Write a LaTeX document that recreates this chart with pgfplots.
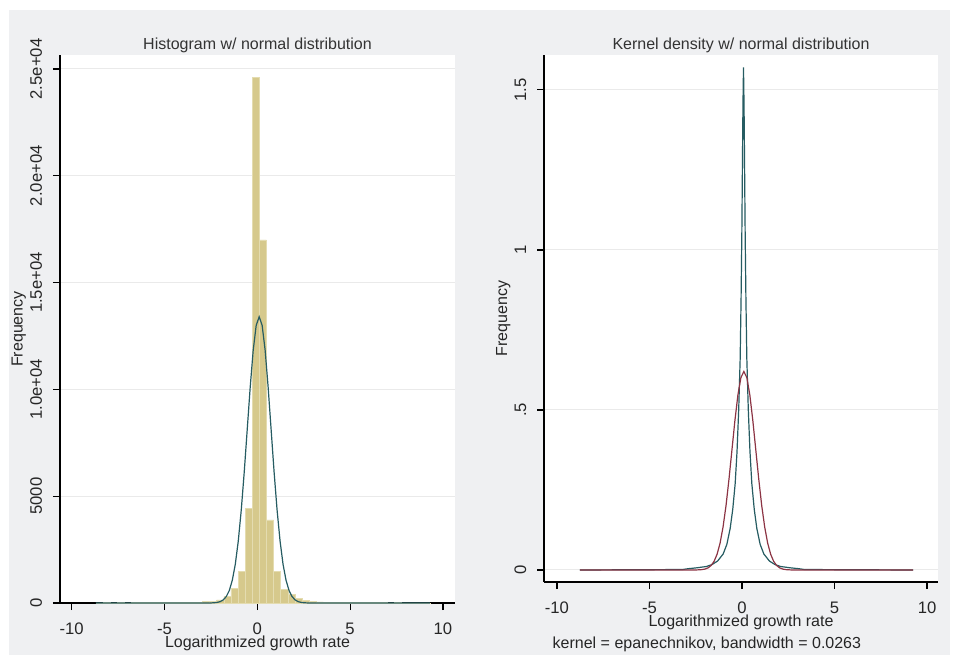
\documentclass[border=0pt]{standalone}
\usepackage{pgfplots}
\pgfplotsset{compat=1.18}
\usepackage{fontspec}
\setmainfont{Liberation Sans}

\definecolor{bgray}{RGB}{239,240,242}
\definecolor{barfill}{RGB}{214,201,140}
\definecolor{baredge}{RGB}{228,220,176}
\definecolor{tealline}{RGB}{38,92,98}
\definecolor{maroonline}{RGB}{140,52,68}
\definecolor{gridc}{RGB}{234,234,234}

% 1 px of the reference = 0.75pt
\pgfplotsset{
  stata/.style={
    scale only axis, clip mode=individual,
    axis x line*=bottom, axis y line*=left,
    axis line style={-, line width=1.1pt, black},
    axis background/.style={fill=white},
    tick align=outside,
    major tick length=5.25pt,
    tick style={line width=0.9pt, black},
    ymajorgrids, major grid style={gridc, line width=0.75pt},
    font=\fontsize{12}{14}\selectfont,
    tick label style={font=\fontsize{12.5}{14}\selectfont, text=black!85},
    xtick={-10,-5,0,5,10}, xticklabels={-10,-5,0,5,10},
    xticklabel style={anchor=base}, xticklabel shift=18pt,
    yticklabel style={rotate=90, anchor=base}, yticklabel shift=8.25pt,
    scaled y ticks=false,
    every axis title shift=0pt,
    title style={at={(axis description cs:0.5,1)}, anchor=base, yshift=3.75pt, text=black!80},
    xlabel style={at={(axis description cs:0.5,0)}, anchor=base, yshift=-33.4pt, text=black!85},
    ylabel style={anchor=base, text=black!85},
    xlabel={Logarithmized growth rate}, ylabel={Frequency},
  }
}

\begin{document}
\begin{tikzpicture}
\fill[white] (0pt,0pt) rectangle (717.75pt,498.75pt);
\fill[bgray] (6.75pt,7.5pt) rectangle (712.5pt,491.25pt);

% histogram panel
\begin{axis}[stata, at={(45pt,46.5pt)}, anchor=south west,
  width=296.25pt, height=411pt,
  xmin=-10.63, xmax=10.65, ymin=0, ymax=25655,
  ytick={0,5000,10000,15000,20000,25000},
  yticklabels={0,5000,1.0e+04,1.5e+04,2.0e+04,2.5e+04},
  title={Histogram w/ normal distribution},
  ylabel style={at={(axis description cs:-0.0949,0.5)}},
]
\addplot[ybar interval, fill=barfill, draw=baredge, line width=0.4pt] coordinates {
(-8.700,10) (-8.317,15) (-7.934,8) (-7.551,12) (-7.168,10) (-6.785,14)
(-6.402,12) (-6.019,16) (-5.636,15) (-5.253,18) (-4.870,20) (-4.487,22)
(-4.104,28) (-3.721,35) (-3.338,45) (-2.955,60) (-2.572,90) (-2.189,150)
(-1.806,300) (-1.423,700) (-1.040,1470) (-0.657,4430) (-0.274,24600)
(0.109,17000) (0.492,3890) (0.875,1470) (1.258,650) (1.641,420)
(2.024,200) (2.407,120) (2.790,80) (3.173,55) (3.556,40) (3.939,32)
(4.322,26) (4.705,22) (5.088,18) (5.471,16) (5.854,14) (6.237,12)
(6.620,14) (7.003,10) (7.386,12) (7.769,9) (8.152,10) (8.535,8)
(8.918,10) (9.301,10)
};
% normal density scaled to frequencies
\addplot[tealline, line width=0.9pt] coordinates {
(-8.70,0) (-2.473,4.5) (-2.312,12) (-2.151,29) (-1.990,68) (-1.830,149)
(-1.669,306) (-1.508,588) (-1.347,1067) (-1.186,1814) (-1.026,2899)
(-0.865,4352) (-0.704,6136) (-0.543,8130) (-0.382,10117) (-0.222,11829)
(-0.061,12991) (0.100,13404) (0.261,12991) (0.422,11829) (0.582,10117)
(0.743,8130) (0.904,6136) (1.065,4352) (1.226,2899) (1.386,1814)
(1.547,1067) (1.708,588) (1.869,306) (2.030,149) (2.190,68) (2.351,29)
(2.512,12) (2.673,4.5) (9.30,0)
};
\end{axis}

% kernel density panel
\begin{axis}[stata, at={(408pt,62.25pt)}, anchor=south west,
  width=295.5pt, height=395.25pt,
  xmin=-10.70, xmax=10.59, ymin=-0.0375, ymax=1.609,
  ytick={0,0.5,1,1.5}, yticklabels={0,.5,1,1.5},
  title={Kernel density w/ normal distribution},
  ylabel style={at={(axis description cs:-0.0939,0.5)}},
]
% kernel density estimate
\addplot[tealline, line width=0.9pt] coordinates {
(-8.76,0) (-3.22,0.0015) (-2.92,0.004) (-2.42,0.007) (-1.92,0.011)
(-1.62,0.017) (-1.32,0.028) (-1.02,0.05) (-0.82,0.08) (-0.64,0.13)
(-0.50,0.19) (-0.37,0.27) (-0.27,0.37) (-0.18,0.50) (-0.10,0.66)
(-0.05,0.85) (-0.01,1.05) (0.02,1.25) (0.05,1.45) (0.08,1.57)
(0.11,1.45) (0.14,1.25) (0.17,1.05) (0.21,0.85) (0.26,0.66)
(0.34,0.50) (0.43,0.37) (0.53,0.27) (0.66,0.19) (0.80,0.13)
(0.98,0.08) (1.18,0.05) (1.48,0.028) (1.78,0.017) (2.08,0.011)
(2.58,0.007) (3.08,0.004) (3.38,0.0015) (9.24,0)
};
% normal density
\addplot[maroonline, line width=0.9pt] coordinates {
(-8.76,0) (-2.473,0.0002) (-2.312,0.0006) (-2.151,0.0013) (-1.990,0.0031)
(-1.830,0.0069) (-1.669,0.0142) (-1.508,0.0272) (-1.347,0.0494)
(-1.186,0.0839) (-1.026,0.134) (-0.865,0.201) (-0.704,0.284)
(-0.543,0.376) (-0.382,0.468) (-0.222,0.547) (-0.061,0.601) (0.100,0.620)
(0.261,0.601) (0.422,0.547) (0.582,0.468) (0.743,0.376) (0.904,0.284)
(1.065,0.201) (1.226,0.134) (1.386,0.0839) (1.547,0.0494) (1.708,0.0272)
(1.869,0.0142) (2.030,0.0069) (2.190,0.0031) (2.351,0.0013)
(2.512,0.0006) (2.673,0.0002) (9.24,0)
};
\node[anchor=base west, text=black!85] at ([yshift=-49.5pt]axis description cs:0.0102,0)
  {kernel = epanechnikov, bandwidth = 0.0263};
\end{axis}
\end{tikzpicture}
\end{document}
